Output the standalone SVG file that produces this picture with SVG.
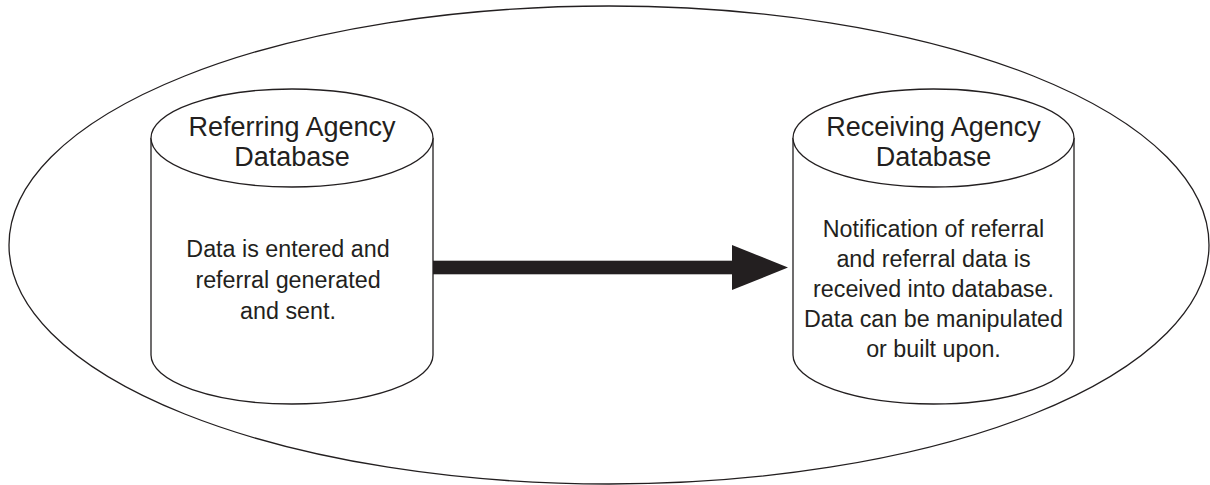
<svg xmlns="http://www.w3.org/2000/svg" width="1210" height="485" viewBox="0 0 1210 485">
<style>
  .outline { fill: none; stroke: #231f20; stroke-width: 1.3; }
  .cyl { fill: #ffffff; stroke: #231f20; stroke-width: 1.3; }
  .title { font-family: "Liberation Sans", Arial, sans-serif; font-size: 27px; fill: #231f20; text-anchor: middle; }
  .body { font-family: "Liberation Sans", Arial, sans-serif; font-size: 23.3px; fill: #231f20; text-anchor: middle; }
</style>
<rect width="1210" height="485" fill="#ffffff"/>
<g id="boundary">
  <ellipse class="outline" cx="609" cy="245" rx="600" ry="239"/>
</g>
<g id="referring-db">
  <path class="cyl" d="M151,138 L151,355 A141,49 0 0 0 433,355 L433,138"/>
  <ellipse class="cyl" cx="292" cy="138" rx="141" ry="49"/>
  <text class="title" x="292" y="136">Referring Agency</text>
  <text class="title" x="292" y="166">Database</text>
  <text class="body" x="288" y="257">Data is entered and</text>
  <text class="body" x="288" y="288">referral generated</text>
  <text class="body" x="288" y="319">and sent.</text>
</g>
<g id="receiving-db">
  <path class="cyl" d="M793,138 L793,355 A140.5,49 0 0 0 1074,355 L1074,138"/>
  <ellipse class="cyl" cx="933.5" cy="138" rx="140.5" ry="49"/>
  <text class="title" x="933.5" y="136">Receiving Agency</text>
  <text class="title" x="933.5" y="166">Database</text>
  <text class="body" x="933.5" y="237">Notification of referral</text>
  <text class="body" x="933.5" y="267">and referral data is</text>
  <text class="body" x="933.5" y="297">received into database.</text>
  <text class="body" x="933.5" y="327">Data can be manipulated</text>
  <text class="body" x="933.5" y="357">or built upon.</text>
</g>
<g id="connectors">
  <rect x="433" y="260.7" width="300" height="13.6" fill="#231f20"/>
  <polygon points="732,245 788,267.5 732,290" fill="#231f20"/>
</g>
</svg>
